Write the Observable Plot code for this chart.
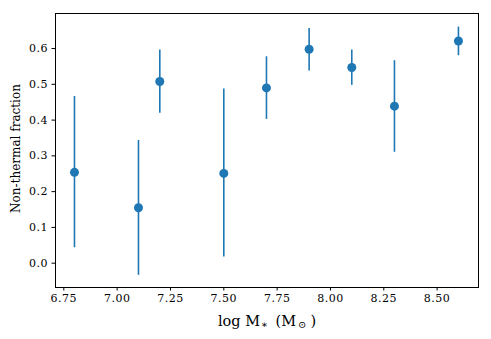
<!DOCTYPE html>
<html>
<head>
<meta charset="utf-8">
<script src="https://cdn.jsdelivr.net/npm/d3@7"></script>
<script src="https://cdn.jsdelivr.net/npm/@observablehq/plot@0.6"></script>
<style>
  html, body { margin: 0; padding: 0; background: #fff; }
  g[aria-label="x-axis tick label"] text,
  g[aria-label="y-axis tick label"] text { letter-spacing: 0.5px; }
</style>
</head>
<body>
<div id="chart"></div>
<script>
const logMass = [6.8, 7.1, 7.2, 7.5, 7.7, 7.9, 8.1, 8.3, 8.6];
const fraction = [0.254, 0.155, 0.508, 0.251, 0.490, 0.598, 0.547, 0.439, 0.621];
const errLow = [0.043, -0.034, 0.419, 0.017, 0.402, 0.537, 0.497, 0.310, 0.580];
const errHigh = [0.466, 0.343, 0.596, 0.487, 0.577, 0.656, 0.596, 0.566, 0.660];
const xTicks = [6.75, 7.0, 7.25, 7.5, 7.75, 8.0, 8.25, 8.5];
const yTicks = [0.0, 0.1, 0.2, 0.3, 0.4, 0.5, 0.6];

const data = logMass.map((x, i) => ({x, y: fraction[i], lo: errLow[i], hi: errHigh[i]}));
const color = "#1f77b4";
const font = "DejaVu Serif";

const plot = Plot.plot({
  width: 491,
  height: 339,
  marginLeft: 55,
  marginRight: 13,
  marginTop: 13,
  marginBottom: 52,
  style: {fontFamily: font, fontSize: "11px", background: "#fff", color: "#000"},
  x: {domain: [6.711, 8.694]},
  y: {domain: [-0.068, 0.698]},
  marks: [
    Plot.axisX({ticks: xTicks, tickFormat: d3.format(".2f"), tickSize: 3.5, tickPadding: 3.5, label: null, fontSize: 11}),
    Plot.axisY({ticks: yTicks, tickFormat: d3.format(".1f"), tickSize: 3.5, tickPadding: 4, label: null, fontSize: 11}),
    Plot.ruleX(data, {x: "x", y1: "lo", y2: "hi", stroke: color, strokeWidth: 1.6}),
    Plot.dot(data, {x: "x", y: "y", r: 4.5, fill: color, stroke: "none"}),
    Plot.frame({stroke: "#000", strokeWidth: 1})
  ]
});

document.getElementById("chart").appendChild(plot);

const svg = d3.select(plot);
const xl = svg.append("text")
  .attr("x", 267).attr("y", 325.5)
  .attr("text-anchor", "middle")
  .attr("font-family", font)
  .attr("font-size", 14.5)
  .attr("fill", "#000");
xl.append("tspan").text("log M");
xl.append("tspan").attr("font-size", 10).attr("dx", 1).attr("dy", 2).text("∗");
xl.append("tspan").attr("dx", 3).attr("dy", -2).text(" (M");
xl.append("tspan").attr("font-size", 10).attr("dx", 2).attr("dy", 2.5).text("⊙");
xl.append("tspan").attr("dx", 4).attr("dy", -2.5).text(")");

svg.append("text")
  .attr("transform", "translate(20,148.5) rotate(-90)")
  .attr("text-anchor", "middle")
  .attr("font-family", font)
  .attr("font-size", 12)
  .attr("fill", "#000")
  .text("Non-thermal fraction");
</script>
</body>
</html>
